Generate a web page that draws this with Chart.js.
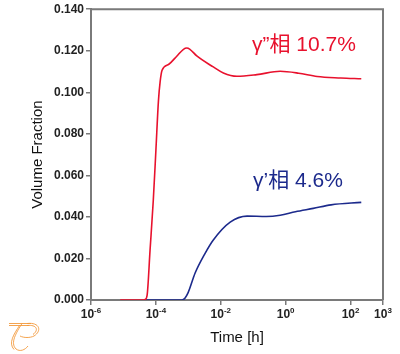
<!DOCTYPE html>
<html><head><meta charset="utf-8">
<script src="https://cdn.jsdelivr.net/npm/chart.js@4/dist/chart.umd.min.js"></script>
<style>html,body{margin:0;padding:0;background:#fff}#wrap{width:400px;height:354px;position:relative}</style>
</head><body><div id="wrap"><canvas id="c" width="400" height="354"></canvas></div>
<script>
const redTime = [7.94e-6, 3.98e-5, 4.68e-5, 5.37e-5, 6.61e-5, 8.32e-5, 1.0e-4, 1.20e-4, 1.35e-4, 1.55e-4, 2.51e-4, 4.47e-4, 7.08e-4, 8.91e-4, 1.12e-3, 1.82e-3, 5.89e-3, 1.20e-2, 3.16e-2, 0.129, 0.676, 2.51, 9.33, 50.1, 214];
const redValue = [0, 0, 0.0003, 0.0024, 0.024, 0.048, 0.072, 0.096, 0.105, 0.1106, 0.1135, 0.1175, 0.1207, 0.1213, 0.1207, 0.1175, 0.1122, 0.1093, 0.1077, 0.1085, 0.1101, 0.1092, 0.1076, 0.1069, 0.1065];
const blueTime = [5.01e-5, 6.31e-4, 7.94e-4, 9.77e-4, 1.62e-3, 3.16e-3, 5.89e-3, 1.95e-2, 6.46e-2, 0.251, 0.676, 2.0, 7.08, 25.1, 214];
const blueValue = [0, 0, 0.001, 0.0034, 0.013, 0.022, 0.0289, 0.0375, 0.0404, 0.0402, 0.0408, 0.0425, 0.0441, 0.0458, 0.047];
const xTickValues = [1e-6, 1e-4, 1e-2, 1e0, 1e2, 1e3];
const yTickValues = [0, 0.02, 0.04, 0.06, 0.08, 0.10, 0.12, 0.14];
const seriesLabels = ['γ”相 10.7%', 'γ’相 4.6%'];

const FONT = "'Liberation Sans', Arial, 'Noto Sans CJK SC', sans-serif";
const AXIS = '#7a7a7a';

const pts = (t, v) => t.map((x, i) => ({x, y: v[i]}));

const decor = {
  id: 'decor',
  afterDraw(chart) {
    const ctx = chart.ctx, a = chart.chartArea;
    ctx.save();
    ctx.strokeStyle = AXIS; ctx.lineWidth = 2;
    ctx.beginPath();
    ctx.moveTo(a.left, a.top); ctx.lineTo(a.right, a.top); ctx.lineTo(a.right, a.bottom);
    ctx.stroke();
    // x tick labels: 10 with superscript exponent
    const xs = chart.scales.x;
    ctx.fillStyle = '#222';
    ctx.textBaseline = 'alphabetic';
    xTickValues.forEach(v => {
      const e = String(Math.round(Math.log10(v)));
      ctx.font = 'bold 12px ' + FONT;
      const w1 = ctx.measureText('10').width;
      ctx.font = 'bold 8px ' + FONT;
      const w2 = ctx.measureText(e).width;
      const x0 = xs.getPixelForValue(v) - (w1 + w2) / 2;
      ctx.font = 'bold 12px ' + FONT;
      ctx.textAlign = 'left';
      ctx.fillText('10', x0, 318);
      ctx.font = 'bold 8px ' + FONT;
      ctx.fillText(e, x0 + w1, 313);
    });
    ctx.font = '21px ' + FONT;
    ctx.textBaseline = 'middle';
    ctx.textAlign = 'left';
    ctx.fillStyle = '#e8112d';
    ctx.fillText(seriesLabels[0], 252, 45);
    ctx.fillStyle = '#1c2a8c';
    ctx.fillText(seriesLabels[1], 253, 181);
    // logo
    ctx.strokeStyle = '#f39a3c'; ctx.lineWidth = 0.9;
    ctx.beginPath();
    ctx.moveTo(9, 323.5); ctx.lineTo(31, 323.5);
    ctx.moveTo(9, 325.5); ctx.lineTo(29, 325.5);
    ctx.moveTo(22, 323.5); ctx.bezierCurveTo(16, 333, 10, 343, 16, 349); ctx.bezierCurveTo(20, 352, 25, 350, 28, 346);
    ctx.moveTo(19.5, 325.5); ctx.bezierCurveTo(14, 334, 8, 343, 14, 349.5);
    ctx.moveTo(27, 323.5); ctx.bezierCurveTo(40, 322, 42, 331, 34, 336); ctx.bezierCurveTo(30, 338, 24, 338, 20, 336);
    ctx.moveTo(27, 325.5); ctx.bezierCurveTo(37, 324.5, 39, 330, 33, 334.5);
    ctx.stroke();
    ctx.restore();
  }
};

new Chart(document.getElementById('c'), {
  type: 'scatter',
  data: {
    datasets: [
      {label: seriesLabels[0], data: pts(redTime, redValue), showLine: true, borderColor: '#e8112d', borderWidth: 1.6, pointRadius: 0, cubicInterpolationMode: 'monotone'},
      {label: seriesLabels[1], data: pts(blueTime, blueValue), showLine: true, borderColor: '#1c2a8c', borderWidth: 1.6, pointRadius: 0, cubicInterpolationMode: 'monotone'}
    ]
  },
  options: {
    responsive: false, animation: false, devicePixelRatio: 1,
    layout: {padding: {left: 0, right: 17, top: 9, bottom: 0}},
    plugins: {legend: {display: false}, tooltip: {enabled: false}},
    scales: {
      x: {
        type: 'logarithmic', min: 1e-6, max: 1e3,
        afterBuildTicks: s => { s.ticks = xTickValues.map(v => ({value: v})); },
        afterFit: s => { s.height = 54; },
        ticks: {display: false},
        grid: {display: true, drawOnChartArea: false, drawTicks: true, tickLength: 5, color: AXIS, lineWidth: 1.5},
        border: {display: true, color: AXIS, width: 2},
        title: {display: true, text: 'Time [h]', color: '#111', font: {family: FONT, size: 15}, padding: {top: 4, bottom: 7}}
      },
      y: {
        min: 0, max: 0.14,
        afterBuildTicks: s => { s.ticks = yTickValues.map(v => ({value: v})); },
        afterFit: s => { s.width = 91; },
        ticks: {color: '#222', font: {family: FONT, size: 12, weight: 'bold'}, padding: 2, callback: v => v.toFixed(3)},
        grid: {display: true, drawOnChartArea: false, drawTicks: true, tickLength: 5, color: AXIS, lineWidth: 1.5},
        border: {display: true, color: AXIS, width: 2},
        title: {display: true, text: 'Volume Fraction', color: '#111', font: {family: FONT, size: 15}, padding: {top: 29, bottom: 2}}
      }
    }
  },
  plugins: [decor]
});
</script></body></html>
